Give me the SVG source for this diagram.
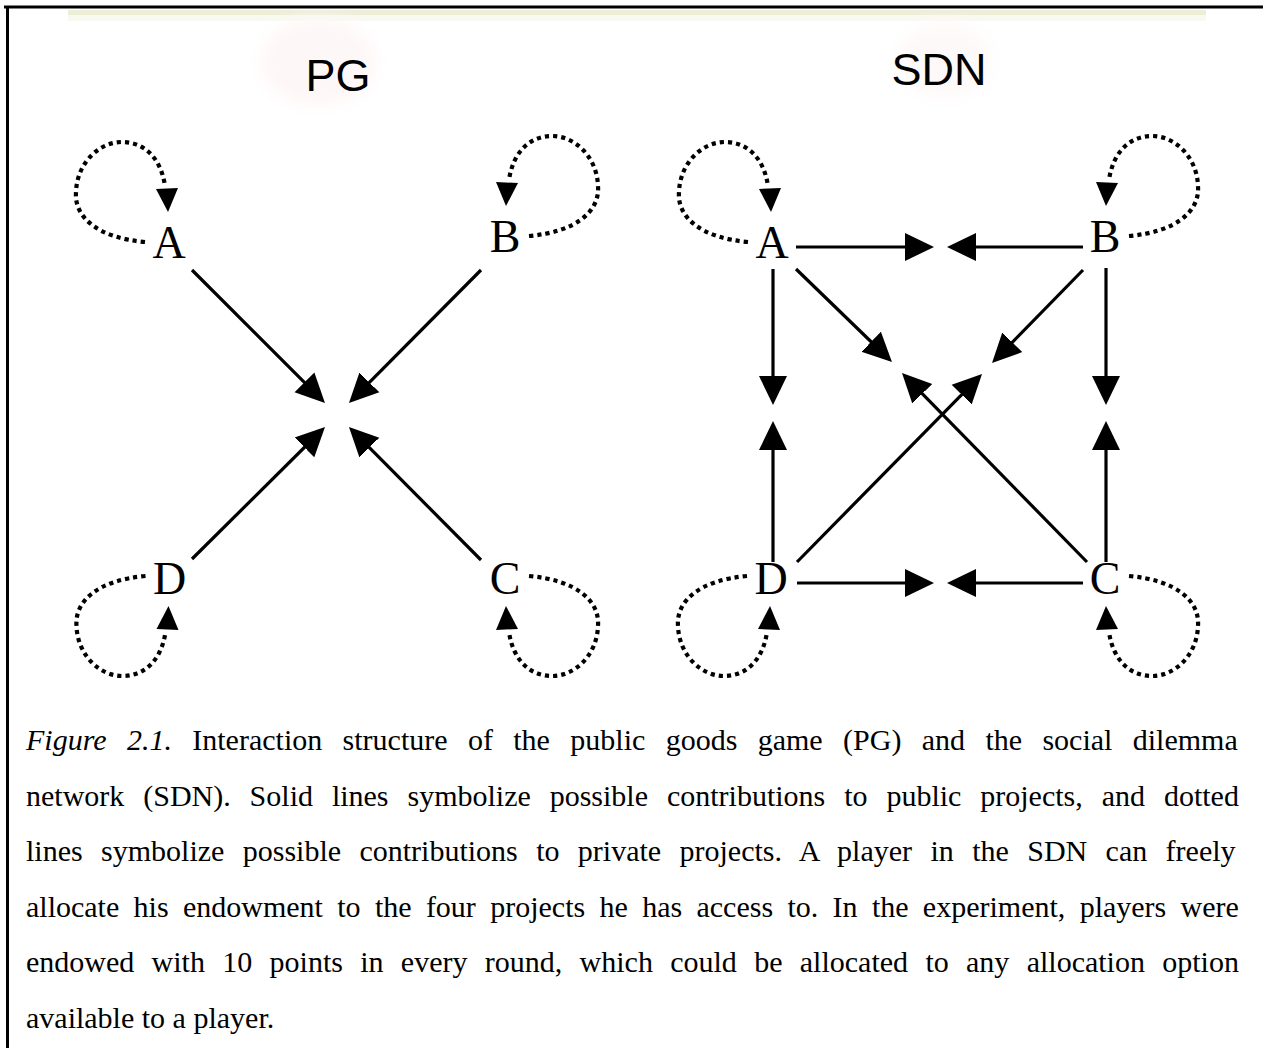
<svg xmlns="http://www.w3.org/2000/svg" width="1263" height="1048" viewBox="0 0 1263 1048">
  <style>
    .node text { font-family: "Liberation Serif", "Times New Roman", serif; font-size: 46px; fill: #000; text-anchor: middle; }
    .title { font-family: "Liberation Sans", Arial, sans-serif; font-size: 45px; fill: #000; text-anchor: middle; }
    .edge { stroke: #000; stroke-width: 3.2; fill: none; marker-end: url(#head); }
    .self { stroke: #000; stroke-width: 4.2; stroke-dasharray: 4.2 4; fill: none; }
    .selfhead { fill: #000; }
    .cap { font-family: "Liberation Serif", "Times New Roman", serif; font-size: 30px; fill: #000; }
    .frame { stroke: #000; stroke-width: 3; }
  </style>
  <defs>
    <marker id="head" markerUnits="userSpaceOnUse" viewBox="0 -15 30 30" markerWidth="30" markerHeight="30" refX="19" refY="0" orient="auto">
      <path d="M0,-14 L29,0 L0,14 Z" fill="#000"/>
    </marker>
    <!-- self-loop drawn relative to the letter's centre/baseline -->
    <g id="loop">
      <path class="self" d="M-24,-16 C-70,-20 -95,-40 -93,-66 C-92,-95 -70,-116 -47,-116 C-25,-116 -8,-100 -4,-72"/>
      <polygon class="selfhead" points="-1,-46 -13,-69 9,-70"/>
    </g>
    <filter id="soft" x="-50%" y="-50%" width="200%" height="200%">
      <feGaussianBlur stdDeviation="8"/>
    </filter>
  </defs>

  <rect width="1263" height="1048" fill="#fff"/>

  <!-- paper tint at the top -->
  <rect x="68" y="10" width="1138" height="5" fill="#eceed8"/>
  <rect x="68" y="15" width="1138" height="6" fill="#f8f9f0"/>
  <ellipse cx="318" cy="62" rx="58" ry="44" fill="#fef7f7" filter="url(#soft)"/>
  <ellipse cx="945" cy="60" rx="48" ry="38" fill="#fef9f9" filter="url(#soft)"/>

  <!-- frame -->
  <line class="frame" x1="4" y1="7" x2="1263" y2="7"/>
  <line class="frame" x1="7.5" y1="6" x2="7.5" y2="1048"/>

  <!-- titles -->
  <text class="title" x="338" y="91">PG</text>
  <text class="title" x="939" y="85">SDN</text>

  <!-- connectors -->
  <g id="connectors">
    <!-- PG -->
    <line class="edge" x1="192" y1="270" x2="317.9" y2="395.9"/>
    <line class="edge" x1="481" y1="270" x2="356" y2="395.9"/>
    <line class="edge" x1="192" y1="559" x2="317.9" y2="434"/>
    <line class="edge" x1="481" y1="560" x2="356" y2="434.1"/>
    <!-- SDN horizontals -->
    <line class="edge" x1="796" y1="247" x2="924" y2="247"/>
    <line class="edge" x1="1083" y1="247" x2="957" y2="247"/>
    <line class="edge" x1="797" y1="583" x2="924" y2="583"/>
    <line class="edge" x1="1083" y1="583" x2="957" y2="583"/>
    <!-- SDN verticals -->
    <line class="edge" x1="773" y1="269" x2="773" y2="395"/>
    <line class="edge" x1="773" y1="562" x2="773" y2="431"/>
    <line class="edge" x1="1106" y1="268" x2="1106" y2="395"/>
    <line class="edge" x1="1106" y1="562" x2="1106" y2="431"/>
    <!-- SDN diagonals -->
    <line class="edge" x1="796" y1="269" x2="884.8" y2="355"/>
    <line class="edge" x1="1083" y1="270" x2="999" y2="355.9"/>
    <line class="edge" x1="1087" y1="562" x2="909" y2="380.1"/>
    <line class="edge" x1="797" y1="562" x2="975" y2="381.1"/>
  </g>

  <!-- PG nodes -->
  <g id="pg-A" class="node">
    <use href="#loop" transform="translate(169,258)"/>
    <text x="169" y="258">A</text>
  </g>
  <g id="pg-B" class="node">
    <use href="#loop" transform="translate(505,252) scale(-1,1)"/>
    <text x="505" y="252">B</text>
  </g>
  <g id="pg-D" class="node">
    <use href="#loop" transform="translate(169.5,560) scale(1,-1)"/>
    <text x="169.5" y="594">D</text>
  </g>
  <g id="pg-C" class="node">
    <use href="#loop" transform="translate(505,560) scale(-1,-1)"/>
    <text x="505" y="594">C</text>
  </g>

  <!-- SDN nodes -->
  <g id="sdn-A" class="node">
    <use href="#loop" transform="translate(772,258)"/>
    <text x="772" y="258">A</text>
  </g>
  <g id="sdn-B" class="node">
    <use href="#loop" transform="translate(1105,252) scale(-1,1)"/>
    <text x="1105" y="252">B</text>
  </g>
  <g id="sdn-D" class="node">
    <use href="#loop" transform="translate(771,560) scale(1,-1)"/>
    <text x="771" y="594">D</text>
  </g>
  <g id="sdn-C" class="node">
    <use href="#loop" transform="translate(1105,560) scale(-1,-1)"/>
    <text x="1105" y="594">C</text>
  </g>

  <!-- caption, justified lines -->
  <g id="caption" class="cap">
    <text x="26" y="750" word-spacing="12.87"><tspan font-style="italic">Figure 2.1.</tspan> Interaction structure of the public goods game (PG) and the social dilemma</text>
    <text x="26" y="805.5" word-spacing="11.41">network (SDN). Solid lines symbolize possible contributions to public projects, and dotted</text>
    <text x="26" y="861" word-spacing="10.88">lines symbolize possible contributions to private projects. A player in the SDN can freely</text>
    <text x="26" y="916.5" word-spacing="6.83">allocate his endowment to the four projects he has access to. In the experiment, players were</text>
    <text x="26" y="972" word-spacing="9.81">endowed with 10 points in every round, which could be allocated to any allocation option</text>
    <text x="26" y="1027.5">available to a player.</text>
  </g>
</svg>
